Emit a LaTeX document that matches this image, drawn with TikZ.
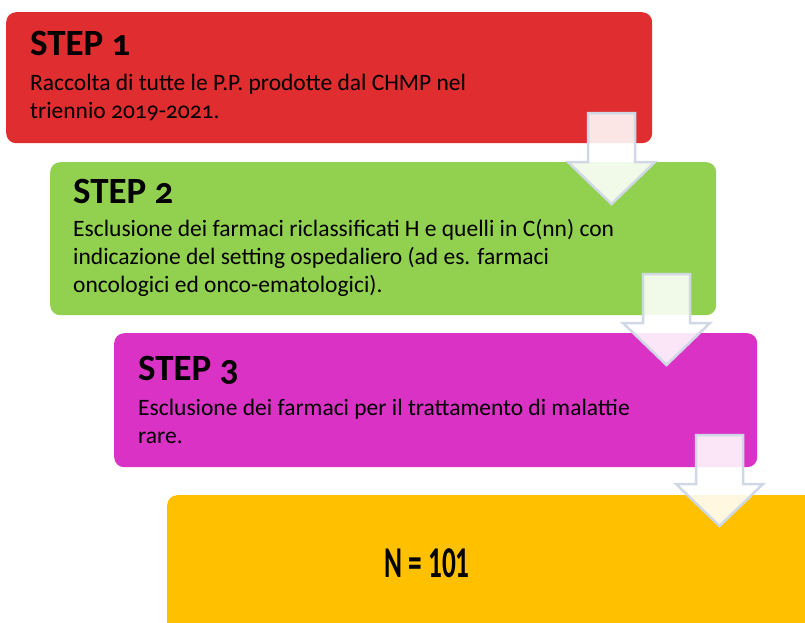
\documentclass[tikz,border=0pt]{standalone}
\usepackage{fontspec}
\setmainfont{Carlito}[Numbers=OldStyle]
\newfontfamily\numfont{Carlito}[Numbers=Lining]
\usetikzlibrary{positioning}

\definecolor{stepred}{HTML}{E02D2F}
\definecolor{stepgreen}{HTML}{92D050}
\definecolor{stepmag}{HTML}{DA32C5}
\definecolor{stepgold}{HTML}{FFC000}
\definecolor{arrline}{HTML}{D0D8E6}

\begin{document}
\begin{tikzpicture}[x=1pt,y=-1pt,
box/.style={rounded corners=10pt,inner sep=0pt,anchor=north west},
ttl/.style={anchor=base west,inner sep=0pt,font=\bfseries\fontsize{37}{40}\selectfont},
txt/.style={anchor=base west,inner sep=0pt,align=left,font=\fontsize{23.5}{28}\selectfont},
arr/.style={draw=arrline,line width=2.5pt,fill=white,fill opacity=0.88,line join=miter}]
\useasboundingbox (0,0) rectangle (805,622);
\clip (0,0) rectangle (805,622);

% boxes
\node (s1) at (6,12) [box,fill=stepred,minimum width=646pt,minimum height=131pt] {};
\node (s2) at (50,162) [box,fill=stepgreen,minimum width=666pt,minimum height=153pt] {};
\node (s3) at (114,333) [box,fill=stepmag,minimum width=643pt,minimum height=134pt] {};
\node (s4) at (167,495) [box,fill=stepgold,minimum width=680pt,minimum height=160pt] {};

% texts (base = last line)
\node (s1t) at (30,55) [ttl] {STEP 1};
\node (s1d) at (30,118) [txt] {Raccolta di tutte le P.P. prodotte dal CHMP nel\\triennio 2019-2021.};
\node (s2t) at (73,203) [ttl] {STEP 2};
\node (s2d) at (73,292) [txt] {Esclusione dei farmaci riclassificati H e quelli in C(nn) con\\indicazione del setting ospedaliero (ad es. farmaci\\oncologici ed onco-ematologici).};
\node (s3t) at (138,380) [ttl] {STEP 3};
\node (s3d) at (138,443) [txt] {Esclusione dei farmaci per il trattamento di malattie\\rare.};
\node (s4t) at (427,563) [font=\numfont\bfseries\fontsize{44}{48}\selectfont] {\scalebox{0.62}[1]{N = 101}};

% arrows
\coordinate (a1) at (611.5,113);
\coordinate (a2) at (666.5,274);
\coordinate (a3) at (719.5,435);
\draw[arr] (a1) -- ++(23.5,0) -- ++(0,49) -- ++(20,0) -- ++(-43.5,42) -- ++(-43.5,-42) -- ++(20,0) -- ++(0,-49) -- cycle;
\draw[arr] (a2) -- ++(23.5,0) -- ++(0,49) -- ++(20,0) -- ++(-43.5,42) -- ++(-43.5,-42) -- ++(20,0) -- ++(0,-49) -- cycle;
\draw[arr] (a3) -- ++(23.5,0) -- ++(0,49) -- ++(20,0) -- ++(-43.5,42) -- ++(-43.5,-42) -- ++(20,0) -- ++(0,-49) -- cycle;

\end{tikzpicture}
\end{document}
